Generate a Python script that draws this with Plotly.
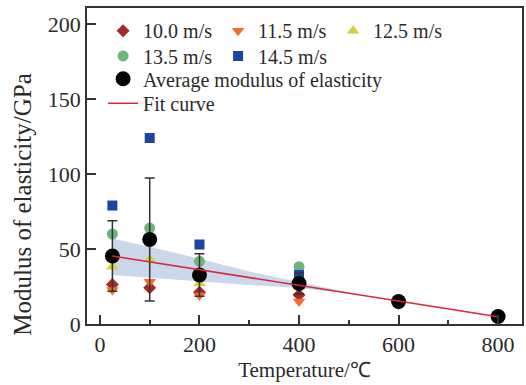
import plotly.graph_objects as go

temps = [25, 100, 200, 400, 600, 800]
v100 = [26.4, 24.2, 21.2, 19.3, 14.0, 5.0]
v115 = [22.7, 28.2, 19.0, 15.0, 13.0, 4.5]
v125 = [38.2, 43.0, 27.0, 25.0, 16.0, 5.2]
v135 = [60.0, 64.0, 41.8, 38.2, 15.5, 5.3]
v145 = [79.0, 124.0, 53.0, 32.7, 15.0, 5.0]
avg = [45.3, 56.4, 32.7, 27.0, 15.0, 5.0]
avg_err = [23.5, 41.0, 14.2, 7.0, 1.5, 0.0]

fit_x = [25, 800]
fit_y = [45.3, 4.9]

band_x = [25, 100, 200, 300, 400, 500, 520]
band_hi = [57.0, 51.5, 43.5, 35.0, 28.0, 21.5, 20.0]
band_lo = [32.7, 31.0, 28.5, 26.0, 24.0, 20.5, 19.7]

FONT = "Liberation Serif"
TXT = "#2a2a2a"
LEG = 20

fig = go.Figure()

fig.add_trace(go.Scatter(
    x=band_x + band_x[::-1], y=band_hi + band_lo[::-1],
    fill="toself", fillcolor="rgba(186,202,228,0.75)", line=dict(width=0),
    mode="lines", showlegend=False, hoverinfo="skip"))

series = [
    ("10.0 m/s", v100, "diamond", "#A82828", 10, "legend"),
    ("11.5 m/s", v115, "triangle-down", "#F26B2C", 11, "legend"),
    ("12.5 m/s", v125, "triangle-up", "#D2D236", 11, "legend"),
    ("13.5 m/s", v135, "circle", "#6DB57B", 11, "legend2"),
    ("14.5 m/s", v145, "square", "#1B45A0", 10, "legend2"),
]
for name, vals, sym, col, sz, lg in series:
    fig.add_trace(go.Scatter(
        x=temps, y=vals, mode="markers", name=name, legend=lg,
        marker=dict(symbol=sym, color=col, size=sz, line=dict(width=0))))

fig.add_trace(go.Scatter(
    x=temps, y=avg, mode="markers", name="Average modulus of elasticity",
    legend="legend3",
    error_y=dict(type="data", array=avg_err, visible=True, color="#333333",
                 thickness=1.5, width=5),
    marker=dict(symbol="circle", color="#050505", size=15,
                line=dict(width=0))))

fig.add_trace(go.Scatter(
    x=fit_x, y=fit_y, mode="lines", name="Fit curve", legend="legend4",
    line=dict(color="#D8283C", width=1.5)))

axis_common = dict(
    showline=True, linecolor="#333333", linewidth=1.5, mirror=True,
    ticks="inside", ticklen=9, tickwidth=1.5, tickcolor="#333333",
    showgrid=False, zeroline=False,
    tickfont=dict(family=FONT, size=22, color=TXT),
)

leg_common = dict(xanchor="left", yanchor="top", bgcolor="rgba(0,0,0,0)",
                  font=dict(family=FONT, size=LEG, color=TXT))

fig.update_layout(
    width=526, height=385,
    margin=dict(l=87, r=2, t=8, b=61),
    paper_bgcolor="white", plot_bgcolor="white",
    font=dict(family=FONT, color=TXT),
    xaxis=dict(range=[-26, 848], tickvals=[0, 200, 400, 600, 800],
               minor=dict(tickvals=[100, 300, 500, 700], ticklen=4,
                          tickwidth=1.5, tickcolor="#333333", ticks="inside"),
               title=dict(text="Temperature/℃", font=dict(family=FONT, size=21, color=TXT),
                          standoff=6),
               **axis_common),
    yaxis=dict(range=[0, 210.7], tickvals=[0, 50, 100, 150, 200],
               **axis_common),
    legend=dict(x=0.037, y=0.99, orientation="h", entrywidth=70, **leg_common),
    legend2=dict(x=0.037, y=0.91, orientation="h", entrywidth=70, **leg_common),
    legend3=dict(x=0.037, y=0.838, orientation="v", **leg_common),
    legend4=dict(x=0.037, y=0.76, orientation="v", **leg_common),
    showlegend=True,
    annotations=[dict(text="Modulus of elasticity/GPa", textangle=-90,
                      xref="paper", yref="paper", x=-0.149, y=0.378,
                      xanchor="center", yanchor="middle", showarrow=False,
                      font=dict(family=FONT, size=25, color=TXT))],
)

fig.write_html("out.html")
